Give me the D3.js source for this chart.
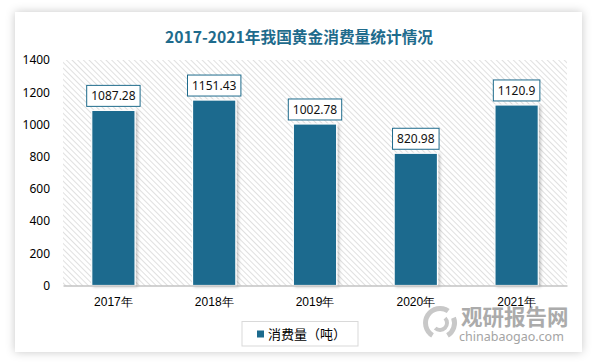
<!DOCTYPE html>
<html>
<head>
<meta charset="utf-8">
<script src="https://cdn.jsdelivr.net/npm/d3@7"></script>
<style>
  html, body { margin: 0; padding: 0; background: #fff; }
  svg { display: block; font-family: "Noto Sans", "Noto Sans CJK SC", sans-serif; }
</style>
</head>
<body>
<svg id="chart" width="595" height="363"></svg>
<script>
// data
var years = ['2017年', '2018年', '2019年', '2020年', '2021年'];
var consumption = [1087.28, 1151.43, 1002.78, 820.98, 1120.9];
var yTicks = [0, 200, 400, 600, 800, 1000, 1200, 1400];
var title = '2017-2021年我国黄金消费量统计情况';
var seriesName = '消费量（吨）';

var barColor = '#1c6b8e';
var svg = d3.select('#chart');
var defs = svg.append('defs');

// card shadow
var f = defs.append('filter').attr('id', 'cardShadow')
    .attr('x', -0.1).attr('y', -0.1).attr('width', 1.2).attr('height', 1.2);
f.append('feDropShadow').attr('dx', 0).attr('dy', 0)
    .attr('stdDeviation', 5).attr('flood-color', '#000').attr('flood-opacity', 0.22);

var fb = defs.append('filter').attr('id', 'barShadow')
    .attr('x', -0.2).attr('y', -0.2).attr('width', 1.5).attr('height', 1.5);
fb.append('feDropShadow').attr('dx', 2).attr('dy', 1)
    .attr('stdDeviation', 1.5).attr('flood-color', '#000').attr('flood-opacity', 0.22);

// hatch for plot area
var pat = defs.append('pattern').attr('id', 'hatch')
    .attr('patternUnits', 'userSpaceOnUse')
    .attr('width', 4).attr('height', 4)
    .attr('patternTransform', 'rotate(-45)');
pat.append('rect').attr('width', 4).attr('height', 4).attr('fill', '#fff');
pat.append('line').attr('x1', 0.5).attr('y1', 0).attr('x2', 0.5).attr('y2', 4)
    .attr('stroke', '#e0e0e0').attr('stroke-width', 1);

svg.append('rect')
    .attr('x', 15).attr('y', 12).attr('width', 567).attr('height', 340)
    .attr('fill', '#fff').attr('filter', 'url(#cardShadow)');

svg.append('text')
    .attr('x', 299).attr('y', 38).attr('dy', '0.35em')
    .attr('text-anchor', 'middle')
    .attr('font-family', '"Noto Sans CJK SC", sans-serif')
    .attr('font-size', 15.7).attr('font-weight', 'bold')
    .attr('fill', '#1e6b8c')
    .text(title);

var x = d3.scaleBand().domain(years).range([63, 567])
    .paddingInner(0.57).paddingOuter(0.285);
var y = d3.scaleLinear().domain([0, 1400]).range([285.5, 60]);

svg.append('rect')
    .attr('x', 63).attr('y', y(1400))
    .attr('width', 504).attr('height', y(0) - y(1400))
    .attr('fill', 'url(#hatch)');

// watermark
var wm = svg.append('g').attr('fill', '#ababab');
wm.append('text').attr('x', 461).attr('y', 325)
    .attr('font-family', '"Noto Sans CJK SC", sans-serif')
    .attr('font-size', 21.5).attr('font-weight', 'bold')
    .text('观研报告网');
wm.append('text').attr('x', 459).attr('y', 341)
    .attr('font-size', 12.5).attr('fill', '#a4a4a4')
    .text('chinabaogao.com');
var arc = d3.arc();
var logo = wm.append('g').attr('transform', 'translate(440,323)').attr('fill', '#c8c8c8');
logo.append('path').attr('d', arc({innerRadius: 12, outerRadius: 17, startAngle: -2.6, endAngle: 0.6}));
logo.append('path').attr('d', arc({innerRadius: 5, outerRadius: 9, startAngle: 0.8, endAngle: 3.9}));
logo.append('path').attr('d', arc({innerRadius: 12, outerRadius: 17, startAngle: 1.2, endAngle: 2.6}));

// y axis labels
var yAxis = d3.axisLeft(y).tickValues(yTicks).tickFormat(d3.format('d'))
    .tickSize(0).tickPadding(0);
var gy = svg.append('g').attr('transform', 'translate(50,0)').call(yAxis);
gy.select('.domain').remove();
gy.selectAll('text').attr('font-size', 12).attr('fill', '#000')
    .attr('font-family', '"Noto Sans", sans-serif');

// bars
svg.append('g').selectAll('rect').data(consumption).join('rect')
    .attr('x', function(d, i){ return x(years[i]); })
    .attr('y', function(d){ return y(d); })
    .attr('width', x.bandwidth())
    .attr('height', function(d){ return y(0) - y(d); })
    .attr('fill', barColor)
    .attr('stroke', '#fff').attr('stroke-width', 1.2)
    .attr('filter', 'url(#barShadow)');

// x axis
var xAxis = d3.axisBottom(x).tickSize(0).tickPadding(12);
var gx = svg.append('g').attr('transform', 'translate(0,' + y(0) + ')').call(xAxis);
gx.select('.domain').attr('stroke', '#a6a6a6').attr('stroke-width', 1.2);
gx.selectAll('text').attr('font-size', 12).attr('fill', '#000');

// value labels
var lab = svg.append('g').selectAll('g').data(consumption).join('g')
    .attr('transform', function(d, i){
        return 'translate(' + (x(years[i]) + x.bandwidth() / 2) + ',' + (y(d) - 4) + ')';
    });
lab.append('rect').attr('fill', '#fff')
    .attr('stroke', '#1e6b8c').attr('stroke-width', 1);
var txt = lab.append('text').attr('text-anchor', 'middle')
    .attr('y', -10.5).attr('dy', '0.36em')
    .attr('font-size', 12).attr('fill', '#111')
    .text(function(d){ return d; });
txt.each(function(){
    var w = this.getComputedTextLength() + 9;
    d3.select(this.parentNode).select('rect')
        .attr('x', -w / 2).attr('y', -21).attr('width', w).attr('height', 21);
});

// legend
var leg = svg.append('g').attr('transform', 'translate(242,321.5)');
leg.append('rect').attr('width', 116).attr('height', 24.5)
    .attr('fill', '#fff').attr('stroke', '#d9d9d9');
leg.append('rect').attr('x', 15).attr('y', 9).attr('width', 7).attr('height', 7)
    .attr('fill', barColor);
leg.append('text').attr('x', 26).attr('y', 12.5).attr('dy', '0.36em')
    .attr('font-family', '"Noto Sans CJK SC", sans-serif')
    .attr('font-size', 13).attr('fill', '#000')
    .text(seriesName);
</script>
</body>
</html>
